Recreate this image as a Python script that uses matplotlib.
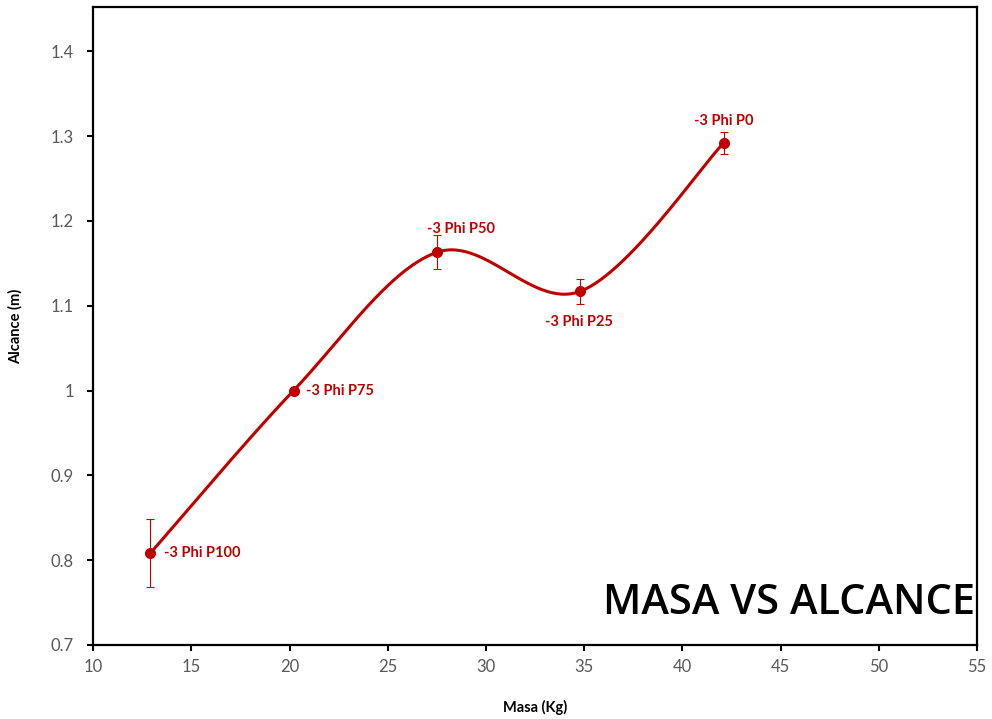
import numpy as np
import matplotlib.pyplot as plt

# datos
masa = [12.9, 20.2, 27.5, 34.8, 42.1]
alcance = [0.808, 1.0, 1.163, 1.117, 1.292]
error = [0.040, 0.0, 0.020, 0.015, 0.013]
etiquetas = ["-3 Phi P100", "-3 Phi P75", "-3 Phi P50", "-3 Phi P25", "-3 Phi P0"]

rojo = "#C00000"
gris = "#595959"
plt.rcParams["font.family"] = ["Lato", "DejaVu Sans"]


# curva suavizada tipo Excel (Catmull-Rom con puntos de control a 1/6)
def suavizar(x, y, n=60):
    p = np.column_stack([x, y])
    p = np.vstack([p[0], p, p[-1]])
    out = []
    for i in range(1, len(p) - 2):
        p0, p1, p2, p3 = p[i - 1], p[i], p[i + 1], p[i + 2]
        c1 = p1 + (p2 - p0) / 6
        c2 = p2 - (p3 - p1) / 6
        t = np.linspace(0, 1, n)[:, None]
        b = (1 - t) ** 3 * p1 + 3 * (1 - t) ** 2 * t * c1 + 3 * (1 - t) * t ** 2 * c2 + t ** 3 * p2
        out.append(b)
    out = np.vstack(out)
    return out[:, 0], out[:, 1]


fig = plt.figure(figsize=(9.92, 7.19), dpi=100)
ax = fig.add_axes([0.094, 0.103, 0.891, 0.887])

xs, ys = suavizar(masa, alcance)
ax.plot(xs, ys, color=rojo, lw=2.2)
ax.errorbar(masa, alcance, yerr=error, fmt="o", color=rojo, ms=7,
            ecolor=rojo, elinewidth=0.8, capsize=3, capthick=0.8)

offsets = [(10, 0, "left", "center"), (9, 0, "left", "center"),
           (17, 17, "center", "center"), (-1, -22, "center", "center"),
           (0, 16, "center", "center")]
for xi, yi, lab, (dx, dy, ha, va) in zip(masa, alcance, etiquetas, offsets):
    ax.annotate(lab, (xi, yi), xytext=(dx, dy), textcoords="offset points",
                ha=ha, va=va, color=rojo, fontsize=10.5, fontweight="bold")

ax.set_xlim(10, 55)
ax.set_ylim(0.7, 1.452)
ax.set_xticks(np.arange(10, 56, 5))
ax.set_yticks([0.7, 0.8, 0.9, 1.0, 1.1, 1.2, 1.3, 1.4])
ax.set_yticklabels(["0.7", "0.8", "0.9", "1", "1.1", "1.2", "1.3", "1.4"])
ax.tick_params(colors="black", labelcolor=gris, labelsize=12, direction="out",
               length=4, width=1.5)
ax.tick_params(axis="y", pad=10)
ax.tick_params(axis="x", pad=6)
for s in ax.spines.values():
    s.set_linewidth(1.6)

ax.set_xlabel("Masa (Kg)", fontsize=10.5, fontweight="bold", labelpad=18)
ax.set_ylabel("Alcance (m)", fontsize=10.5, fontweight="bold", labelpad=20)

ax.text(0.998, 0.066, "MASA VS ALCANCE", transform=ax.transAxes, ha="right",
        va="center", fontsize=30, fontweight="semibold", color="black",
        family=["Open Sans", "DejaVu Sans"])

fig.savefig("out.png", dpi=100)
